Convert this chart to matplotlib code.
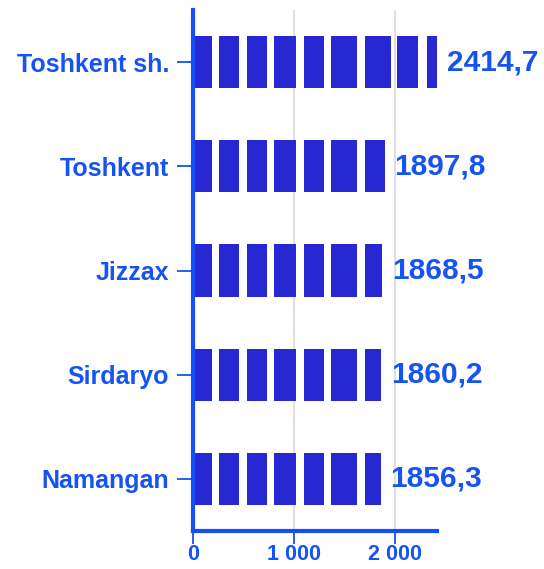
import matplotlib
matplotlib.use("Agg")
import matplotlib.pyplot as plt

# data
regions = ["Toshkent sh.", "Toshkent", "Jizzax", "Sirdaryo", "Namangan"]
values = [2414.7, 1897.8, 1868.5, 1860.2, 1856.3]
value_labels = ["2414,7", "1897,8", "1868,5", "1860,2", "1856,3"]
x_ticks = [0, 1000, 2000]
x_tick_labels = ["0", "1 000", "2 000"]

# white cuts that split each bar into blocks (style, in data units)
GAPS = [(188, 257), (455, 529), (727, 799), (1017, 1096), (1294, 1363),
        (1618, 1700), (1954, 2020), (2228, 2311)]

BAR_COLOR = "#2828d2"
TEXT_COLOR = "#1553f2"
AXIS_COLOR = "#1450fa"

plt.rcParams["font.family"] = ["Liberation Sans", "DejaVu Sans"]
plt.rcParams["font.weight"] = "bold"

fig = plt.figure(figsize=(5.44, 5.69), dpi=100)
ax = fig.add_axes([0.3553, 0.0668, 0.4485, 0.9156])


def segments(length):
    """split a bar of given length into (start, width) blocks"""
    out = []
    start = 0
    for g0, g1 in GAPS:
        if g0 >= length:
            break
        out.append((start, g0 - start))
        start = g1
        if start >= length:
            return out
    out.append((start, length - start))
    return out


for i, (v, lab) in enumerate(zip(values, value_labels)):
    ax.broken_barh(segments(v), (i - 0.25, 0.5), facecolors=BAR_COLOR,
                   clip_on=False, zorder=3)
    ax.text(v + 95, i, lab, va="center", ha="left", fontsize=21.5,
            color=TEXT_COLOR, fontweight="bold")

ax.set_xlim(0, 2415)
ax.set_ylim(len(regions) - 0.5, -0.5)

ax.set_yticks(range(len(regions)))
ax.set_yticklabels(regions, fontsize=18, color=TEXT_COLOR, fontweight="bold")
ax.set_xticks(x_ticks)
ax.set_xticklabels(x_tick_labels, fontsize=15.5, color=TEXT_COLOR, fontweight="bold")

ax.tick_params(axis="y", length=11.5, width=1.3, color=AXIS_COLOR, pad=6)
ax.tick_params(axis="x", length=9, width=1.3, color=AXIS_COLOR, pad=0.5)

ax.grid(axis="x", color="#dcdcdc", linewidth=1.3, zorder=0)
ax.set_axisbelow(True)

for s in ["top", "right"]:
    ax.spines[s].set_visible(False)
for s in ["left", "bottom"]:
    ax.spines[s].set_color(AXIS_COLOR)
    ax.spines[s].set_linewidth(3)
    ax.spines[s].set_zorder(4)

fig.savefig("out.png", dpi=100)
